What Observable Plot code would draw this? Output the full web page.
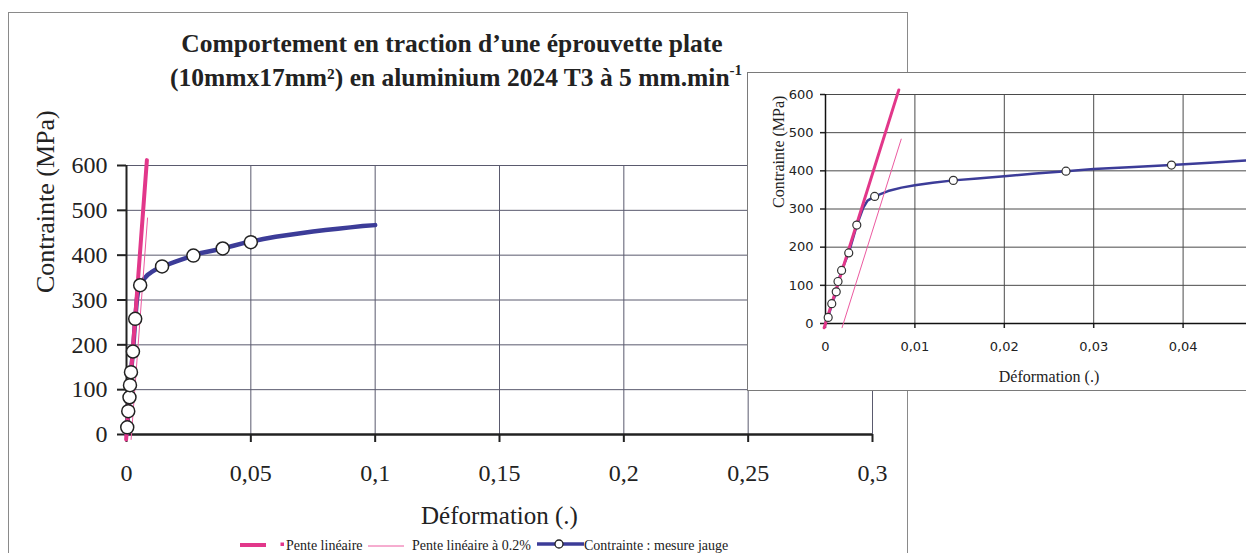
<!DOCTYPE html>
<html><head><meta charset="utf-8">
<script src="https://cdn.jsdelivr.net/npm/d3@7"></script>
<script src="https://cdn.jsdelivr.net/npm/@observablehq/plot@0.6"></script>
<style>
html,body{margin:0;padding:0;background:#fff;overflow:hidden;width:1246px;height:553px;}
#page{position:relative;width:1246px;height:553px;overflow:hidden;font-family:"Liberation Serif","Times New Roman",serif;color:#222;}
#main{position:absolute;left:0;top:0;}
#frame{position:absolute;left:8px;top:12px;width:898px;height:700px;border:1px solid #8a8a8a;}
#inset{position:absolute;left:747px;top:72px;width:600px;height:317px;border:1px solid #7a7a7a;background:#fff;overflow:hidden;}
.t{position:absolute;white-space:nowrap;}
.title{font-weight:bold;font-size:25.5px;line-height:30px;text-align:center;left:0;}
.leg{font-size:14px;line-height:16px;top:538px;}
.sw{position:absolute;}
</style></head><body>
<div id="page">
  <div id="main"></div>
  <div id="frame"></div>
  <div class="t title" style="top:29px;width:904px;">Comportement en traction d’une éprouvette plate</div>
  <div class="t title" style="top:63px;width:912px;">(10mmx17mm²) en aluminium 2024 T3 à 5 mm.min<span style="font-size:15px;position:relative;top:-11px;">-1</span></div>
  <div id="inset"></div>
  <div id="legend"></div>
</div>
<script>
// ---- data ----
const curveStrain = [0, 0.0003, 0.0007, 0.0012, 0.0014, 0.0018, 0.0026, 0.0035, 0.0042, 0.0047, 0.0055, 0.007, 0.0085, 0.01, 0.012, 0.0143, 0.017, 0.02, 0.0235, 0.0269, 0.03, 0.0345, 0.0387, 0.043, 0.047, 0.05, 0.055, 0.06, 0.065, 0.07, 0.075, 0.08, 0.085, 0.09, 0.095, 0.1];
const curveStress = [0, 16, 50, 82, 108, 139, 185, 257, 302, 322, 333, 347, 356, 362, 369, 375, 380, 386, 393, 399, 405, 410, 415, 421, 427, 430, 436, 441, 445, 449, 453, 456, 459, 462, 465, 467];
const markerStrain = [0.0003, 0.0007, 0.0012, 0.0014, 0.0018, 0.0026, 0.0035, 0.0055, 0.0143, 0.0269, 0.0387, 0.05];
const markerStress = [16, 52, 83, 110, 139, 185, 258, 333, 375, 399, 415, 429];
const slopeStrain = [-0.00015, 0.0082];
const slopeStress = [-11, 612];
const offsetStrain = [0.00185, 0.00847];
const offsetStress = [-11, 483];
const xTicksMain = [0, 0.05, 0.1, 0.15, 0.2, 0.25, 0.3];
const xTicksInset = [0, 0.01, 0.02, 0.03, 0.04];
const yTicks = [0, 100, 200, 300, 400, 500, 600];
const titleY = "Contrainte (MPa)";
const titleX = "Déformation (.)";
const legendLabels = ["Pente linéaire", "Pente linéaire à 0.2%", "Contrainte : mesure jauge"];

// ---- colours ----
const BLUE = "#3c3c98", PINK = "#e2378a", PINK2 = "#ec5aa0", GRID = "#5a5a6e";

const zip = (a, b) => a.map((x, i) => ({x, y: b[i]}));
const curve = zip(curveStrain, curveStress);
const markers = zip(markerStrain, markerStress);
const slope = zip(slopeStrain, slopeStress);
const offset = zip(offsetStrain, offsetStress);
const fmt = d => String(d).replace(".", ",");

const main = Plot.plot({
  width: 910, height: 553,
  marginLeft: 126, marginRight: 38, marginTop: 165, marginBottom: 119,
  x: {domain: [0, 0.3]},
  y: {domain: [0, 600]},
  style: {fontFamily: "Liberation Serif", fontSize: "24px", color: "#222", background: "transparent"},
  marks: [
    Plot.gridX(xTicksMain, {stroke: GRID, strokeOpacity: 1, strokeWidth: 1}),
    Plot.gridY(yTicks, {stroke: GRID, strokeOpacity: 1, strokeWidth: 1}),
    Plot.axisX(xTicksMain, {tickFormat: fmt, tickSize: 8, tickPadding: 21, fontSize: 24, strokeWidth: 2, label: null}),
    Plot.axisY(yTicks, {tickSize: 9, tickPadding: 10, fontSize: 24, strokeWidth: 2, label: null}),
    Plot.ruleY([0], {stroke: "#222", strokeWidth: 2.5}),
    Plot.ruleX([0], {stroke: "#222", strokeWidth: 2}),
    Plot.line(curve, {x: "x", y: "y", stroke: BLUE, strokeWidth: 4.5}),
    Plot.line(slope, {x: "x", y: "y", stroke: PINK, strokeWidth: 4}),
    Plot.line(offset, {x: "x", y: "y", stroke: PINK2, strokeWidth: 1}),
    Plot.dot(markers, {x: "x", y: "y", r: 6.5, fill: "white", stroke: "#222", strokeWidth: 1.5}),
    Plot.text([titleY], {text: d => d, frameAnchor: "left", rotate: -90, dx: -81, dy: -7, fontSize: 26, lineAnchor: "middle"}),
    Plot.text([titleX], {text: d => d, frameAnchor: "bottom", dy: 81, fontSize: 25, lineAnchor: "middle"})
  ]
});
document.getElementById("main").appendChild(main);

const inset = Plot.plot({
  width: 524, height: 318,
  marginLeft: 77, marginRight: 0, marginTop: 21, marginBottom: 68,
  x: {domain: [0, 0.05]},
  y: {domain: [0, 600]},
  style: {fontFamily: "DejaVu Sans", fontSize: "13px", color: "#222", background: "white"},
  marks: [
    Plot.gridX(xTicksInset, {stroke: "#4a4a4a", strokeOpacity: 1, strokeWidth: 1}),
    Plot.gridY(yTicks, {stroke: "#4a4a4a", strokeOpacity: 1, strokeWidth: 1}),
    Plot.axisX(xTicksInset, {tickFormat: fmt, tickSize: 5, tickPadding: 13, fontSize: 13, strokeWidth: 1.5, label: null}),
    Plot.axisY(yTicks, {tickSize: 5, tickPadding: 7, fontSize: 13, strokeWidth: 1.5, label: null}),
    Plot.ruleY([0], {stroke: "#111", strokeWidth: 1.5}),
    Plot.ruleX([0], {stroke: "#111", strokeWidth: 1.5}),
    Plot.line(curve, {x: "x", y: "y", stroke: BLUE, strokeWidth: 2.5}),
    Plot.line(slope, {x: "x", y: "y", stroke: PINK, strokeWidth: 3}),
    Plot.line(offset, {x: "x", y: "y", stroke: PINK2, strokeWidth: 1}),
    Plot.dot(markers, {x: "x", y: "y", r: 4, fill: "white", stroke: "#333", strokeWidth: 1.2}),
    Plot.text([titleX], {text: d => d, frameAnchor: "bottom", dy: 53, fontSize: 16, fontFamily: "Liberation Serif", lineAnchor: "middle"}),
    Plot.text([titleY], {text: d => d, frameAnchor: "left", rotate: -90, dx: -47, dy: -1, fontSize: 16, fontFamily: "Liberation Serif", lineAnchor: "middle"})
  ]
});
document.getElementById("inset").appendChild(inset);

// ---- legend ----
const leg = document.getElementById("legend");
leg.innerHTML = `
  <svg class="sw" style="left:240px;top:541px" width="26" height="8"><line x1="0" y1="4" x2="26" y2="4" stroke="${PINK}" stroke-width="4"/></svg>
  <svg class="sw" style="left:280px;top:542px" width="5" height="5"><rect x="0.5" y="0.5" width="3.5" height="3.5" fill="${PINK}"/></svg>
  <div class="t leg" style="left:286px">${legendLabels[0]}</div>
  <svg class="sw" style="left:368px;top:542px" width="36" height="8"><line x1="0" y1="4" x2="36" y2="4" stroke="${PINK2}" stroke-width="1"/></svg>
  <div class="t leg" style="left:412px">${legendLabels[1]}</div>
  <svg class="sw" style="left:537px;top:538px" width="47" height="12"><line x1="0" y1="6" x2="47" y2="6" stroke="${BLUE}" stroke-width="3.5"/><circle cx="22" cy="6" r="4" fill="white" stroke="#222" stroke-width="1.3"/></svg>
  <div class="t leg" style="left:584px">${legendLabels[2]}</div>
`;
</script>
</body></html>
